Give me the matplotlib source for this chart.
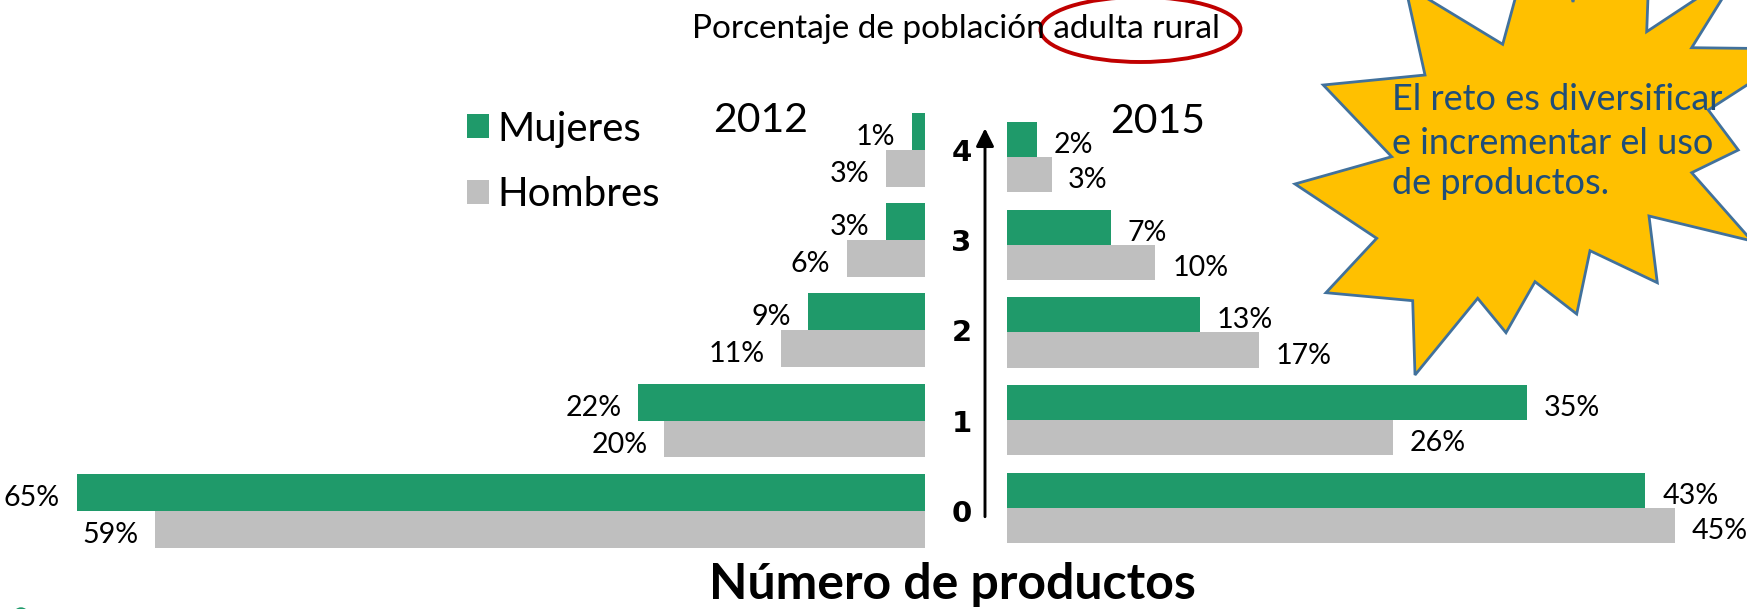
import matplotlib.pyplot as plt
import numpy as np
from matplotlib.patches import Polygon, Ellipse, FancyArrowPatch, Circle
from matplotlib.transforms import Affine2D

# DATOS

productos = [0, 1, 2, 3, 4]
mujeres_2012 = [65, 22, 9, 3, 1]
hombres_2012 = [59, 20, 11, 6, 3]
mujeres_2015 = [43, 35, 13, 7, 2]
hombres_2015 = [45, 26, 17, 10, 3]
series = ['Mujeres', 'Hombres']
anios = ['2012', '2015']

VERDE = '#1F9A6A'
GRIS = '#BFBFBF'
FUENTE = 'Lato'

W, H = 1747, 609
fig = plt.figure(figsize=(W / 100, H / 100), dpi=100)
# coordenadas en pixeles, origen arriba a la izquierda
px = Affine2D().scale(1 / W, -1 / H).translate(0, 1) + fig.transFigure


def piramide(ax, mujeres, hombres, h, izquierda):
    y = np.array(productos)
    b1 = ax.barh(y + h / 2, mujeres, height=h, color=VERDE, label=series[0])
    b2 = ax.barh(y - h / 2, hombres, height=h, color=GRIS, label=series[1])
    for yi, m, hb in zip(y, mujeres, hombres):
        for val, yy in ((m, yi + h / 2), (hb, yi - h / 2)):
            ax.annotate(f'{val}%', (val, yy),
                        xytext=(-12 if izquierda else 12, -4), textcoords='offset points',
                        ha='right' if izquierda else 'left', va='center',
                        fontsize=20.6, family=FUENTE)
    ax.set_ylim(-0.6, 4.6)
    ax.set_xticks([])
    for s in ax.spines.values():
        s.set_visible(False)
    return b1, b2


# PANELES

ax_l = fig.add_axes([0.0066, 0.0726, 0.5229, 0.770])
ax_r = fig.add_axes([0.5764, 0.0794, 0.4165, 0.7493])

barras = piramide(ax_l, mujeres_2012, hombres_2012, 0.41, True)
ax_l.set_xlim(70, 0)
ax_l.yaxis.tick_right()
ax_l.set_yticks(productos)
ax_l.set_yticklabels([str(p) for p in productos], fontsize=21, fontweight='bold',
                     family='DejaVu Sans')
ax_l.tick_params(axis='y', length=0, pad=19)

piramide(ax_r, mujeres_2015, hombres_2015, 0.40, False)
ax_r.set_xlim(0, 49)
ax_r.set_yticks([])

# flecha del eje
flecha = FancyArrowPatch((985, 516.7), (985, 128.3), transform=px,
                         arrowstyle='-|>,head_length=1.08,head_width=0.54',
                         mutation_scale=10, lw=2.1, color='black',
                         shrinkA=0, shrinkB=0)
fig.add_artist(flecha)

# TEXTOS

fig.text(956.5, 37.7, 'Porcentaje de población adulta rural', transform=px,
         ha='center', va='baseline', fontsize=24, family=FUENTE)
fig.add_artist(Ellipse((1140.5, 29.5), 200, 65, transform=px, fill=False,
                       edgecolor='#C00000', lw=2.8))

fig.text(760.8, 131.7, anios[0], transform=px, ha='center', va='baseline',
         fontsize=29.5, family=FUENTE)
fig.text(1157.9, 132.7, anios[1], transform=px, ha='center', va='baseline',
         fontsize=29.5, family=FUENTE)

fig.text(952.7, 599.3, 'Número de productos', transform=px, ha='center',
         va='baseline', fontsize=36, fontweight='bold', family=FUENTE)

fig.legend(handles=list(barras), labels=series, loc='upper left',
           bbox_to_anchor=(466.7, 110.5), bbox_transform=px, frameon=False,
           prop=dict(family=FUENTE, size=29), handlelength=0.55,
           handleheight=0.55, handletextpad=0.22, labelspacing=0.72,
           borderpad=0, borderaxespad=0)

# ESTRELLA

estrella = [(1405, -15), (1502.7, 44.3), (1523, -30), (1565, -30), (1573, 2),
            (1580, -30), (1649, -30), (1646.7, 31.7), (1740, -30), (1691.7, 47.7),
            (1760, 48.5), (1760, 76.6), (1708.3, 110), (1738.3, 150),
            (1691.7, 172.7), (1752, 241), (1649, 216), (1657.3, 282.7),
            (1590, 250.7), (1576.7, 314), (1535, 281.7), (1506, 332.7),
            (1477.7, 298.3), (1415, 375), (1412.7, 300.7), (1326, 292.7),
            (1376.7, 238.3), (1295, 184), (1391.7, 156.7), (1323.3, 85),
            (1425, 75)]
fig.add_artist(Polygon(estrella, closed=True, transform=px, facecolor='#FFC000',
                       edgecolor='#41719C', lw=2))
for texto, yb in zip(['El reto es diversificar', 'e incrementar el uso',
                      'de productos.'], [110, 153.5, 194.5]):
    fig.text(1391.7, yb, texto, transform=px, ha='left', va='baseline',
             fontsize=26, color='#1F4E79', family=FUENTE)

fig.add_artist(Circle((21, 615), 7, transform=px, color=VERDE))

fig.savefig('out.png', dpi=100)
